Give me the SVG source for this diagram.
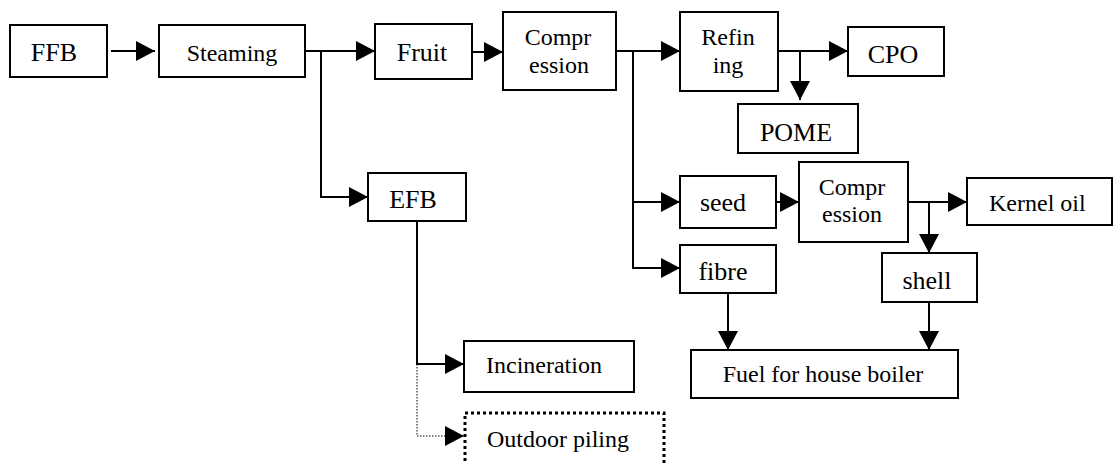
<svg xmlns="http://www.w3.org/2000/svg" width="1114" height="463" viewBox="0 0 1114 463">
<style>
rect{fill:#fff;stroke:#000;stroke-width:2}
rect.dot{stroke-width:3;stroke-dasharray:3 3}
text{font-family:"Liberation Serif","Times New Roman",serif;font-size:24px;fill:#000}
.c{text-anchor:middle}
.b{font-size:26px}
.ln{fill:none;stroke:#000;stroke-width:2;marker-end:url(#ah)}
.ln2{fill:none;stroke:#000;stroke-width:2}
.dl{fill:none;stroke:#000;stroke-width:1;stroke-dasharray:1.5 1.5;marker-end:url(#ah)}
</style>
<defs>
<marker id="ah" markerUnits="userSpaceOnUse" markerWidth="20" markerHeight="20" refX="19" refY="10" orient="auto" viewBox="0 0 20 20">
<path d="M0,0 L19,10 L0,20 Z" fill="#000"/>
</marker>
</defs>
<g id="connectors">
<path class="ln" d="M111,51 H155"/>
<path class="ln" d="M305,51 H375"/>
<path class="ln" d="M321,51 V197 H368"/>
<path class="ln" d="M472,52 H503"/>
<path class="ln" d="M616,51 H680"/>
<path class="ln" d="M633,51 V202 H680"/>
<path class="ln" d="M633,202 V268 H680"/>
<path class="ln" d="M778,51 H848"/>
<path class="ln" d="M800,51 V100"/>
<path class="ln" d="M776,202 H799"/>
<path class="ln" d="M908,202 H967"/>
<path class="ln" d="M929,202 V253"/>
<path class="ln" d="M728,293 V350"/>
<path class="ln" d="M929,302 V350"/>
<path class="ln" d="M417,221 V364 H464"/>
<path class="dl" d="M417,364 V436 H464"/>
</g>
<g id="ffb"><rect x="10" y="25" width="97" height="52"/><text class="c b" x="54" y="61">FFB</text></g>
<g id="steaming"><rect x="159" y="25" width="146" height="52"/><text class="c" x="232" y="61">Steaming</text></g>
<g id="fruit"><rect x="375" y="24" width="97" height="55"/><text class="c b" x="422" y="61">Fruit</text></g>
<g id="compression1"><rect x="503" y="12" width="113" height="78"/><text class="c" x="558" y="45">Compr</text><text class="c" x="559" y="73">ession</text></g>
<g id="refining"><rect x="680" y="12" width="98" height="79"/><text class="c" x="728" y="45">Refin</text><text class="c" x="728" y="73">ing</text></g>
<g id="cpo"><rect x="848" y="27" width="96" height="49"/><text class="c b" x="893" y="63">CPO</text></g>
<g id="pome"><rect x="738" y="104" width="120" height="49"/><text class="c b" x="796" y="141">POME</text></g>
<g id="efb"><rect x="368" y="173" width="98" height="48"/><text class="c b" x="413" y="208">EFB</text></g>
<g id="seed"><rect x="680" y="176" width="96" height="52"/><text class="c b" x="723" y="211">seed</text></g>
<g id="compression2"><rect x="799" y="162" width="109" height="80"/><text class="c" x="852" y="195">Compr</text><text class="c" x="852" y="222">ession</text></g>
<g id="kernel-oil"><rect x="967" y="178" width="145" height="47"/><text x="989" y="211">Kernel oil</text></g>
<g id="fibre"><rect x="680" y="245" width="96" height="48"/><text class="c b" x="723" y="280">fibre</text></g>
<g id="shell"><rect x="882" y="253" width="95" height="49"/><text class="c b" x="927" y="289">shell</text></g>
<g id="fuel"><rect x="691" y="350" width="267" height="48"/><text class="c" x="823" y="382">Fuel for house boiler</text></g>
<g id="incineration"><rect x="464" y="341" width="170" height="51"/><text x="486" y="373">Incineration</text></g>
<g id="outdoor-piling"><rect class="dot" x="465" y="413" width="199" height="62"/><text x="487" y="447">Outdoor piling</text></g>
</svg>
